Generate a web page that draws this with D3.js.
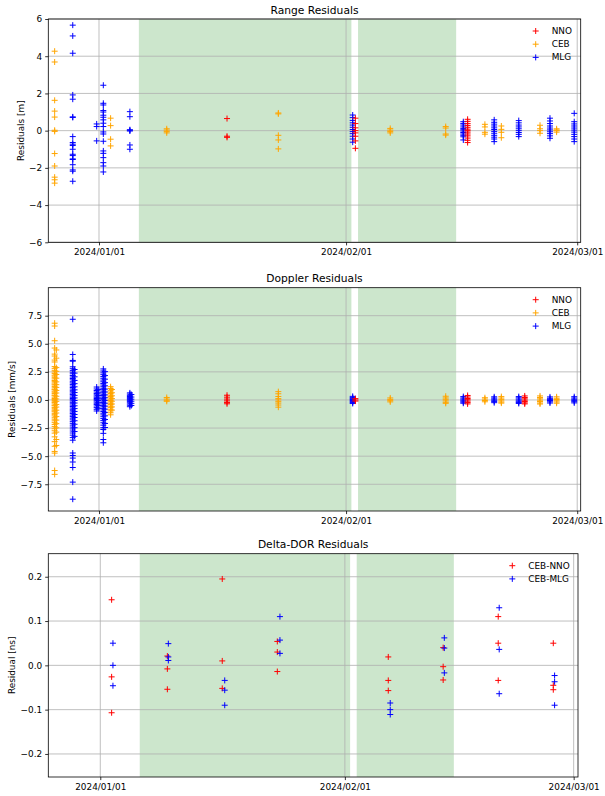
<!DOCTYPE html>
<html>
<head>
<meta charset="utf-8">
<script src="https://cdn.jsdelivr.net/npm/d3@7"></script>
<style>
  body { margin: 0; background: #fff; }
  svg { display: block; font-family: 'DejaVu Sans', sans-serif; }
</style>
</head>
<body>
<svg id="chart" width="605" height="796"></svg>
<script>
const parseTime = d3.timeParse('%Y-%m-%d %H:%M')

// x ticks and shaded periods (shared by all three plots)
const xTicks = ['2024-01-01 00:00', '2024-02-01 00:00', '2024-03-01 00:00']
const greenSpans = [
    ['2024-01-06 00:00', '2024-02-01 16:00'],
    ['2024-02-02 12:00', '2024-02-14 19:30'],
]

const rangeTicks = [-6, -4, -2, 0, 2, 4, 6]
const dopplerTicks = [-7.5, -5, -2.5, 0, 2.5, 5, 7.5]
const dorTicks = [-0.2, -0.1, 0, 0.1, 0.2]

// range residuals [m], one entry per pass: [time, values]
const rangeNNO = [
    ['2024-01-17 01:30', [0.65, -0.3, -0.36]],
    ['2024-02-02 04:00', [0.67, 0.38, 0.15, 0.0, -0.12, -0.3, -0.55, -0.95]],
    ['2024-02-16 06:00', [0.61, 0.5, 0.38, 0.28, 0.18, 0.08, 0.0, -0.08, -0.18, -0.28, -0.4, -0.52, -0.64]],
]
const rangeCEB = [
    ['2023-12-26 10:30', [4.27, 3.69, 1.63, 1.05, 0.73, 0.02, -0.04, -1.23, -1.9, -2.5, -2.64, -2.82]],
    ['2024-01-02 11:00', [0.67, 0.27, -0.46, -0.82]],
    ['2024-01-09 12:00', [0.1, 0.03, -0.04, -0.12]],
    ['2024-01-23 12:00', [0.95, 0.9, -0.25, -0.5, -0.98]],
    ['2024-02-06 13:00', [0.12, 0.03, -0.04, -0.12]],
    ['2024-02-13 12:00', [0.22, 0.14, -0.18, -0.24]],
    ['2024-02-18 10:00', [0.34, 0.2, -0.09, -0.19]],
    ['2024-02-20 11:30', [0.25, 0.07, -0.09, -0.38]],
    ['2024-02-25 08:00', [0.29, 0.1, 0.0, -0.14]],
    ['2024-02-27 10:00', [0.1, 0.04, 0.0, -0.08]],
]
const rangeMLG = [
    ['2023-12-28 17:00', [5.67, 5.09, 4.16, 1.92, 1.69, 0.74, 0.71, -0.32, -0.64, -0.73, -0.8, -1.0, -1.27, -1.34, -1.52, -1.55, -1.83, -2.11, -2.18, -2.72]],
    ['2023-12-31 17:00', [0.36, 0.22, -0.55]],
    ['2024-01-01 13:00', [2.44, 1.47, 1.38, 1.08, 1.0, 0.83, 0.72, 0.58, 0.4, 0.22, -0.07, -0.18, -0.57, -1.09, -1.22, -1.45, -1.72, -1.9, -2.22]],
    ['2024-01-04 21:00', [1.02, 0.75, 0.05, 0.02, -0.02, -0.77, -1.0]],
    ['2024-02-01 20:00', [0.84, 0.7, 0.55, 0.42, 0.3, 0.18, 0.06, -0.05, -0.16, -0.3, -0.45, -0.62]],
    ['2024-02-15 17:00', [0.48, 0.38, 0.3, 0.2, 0.12, 0.05, -0.02, -0.1, -0.18, -0.25, -0.33, -0.5]],
    ['2024-02-19 14:00', [0.58, 0.45, 0.35, 0.25, 0.15, 0.06, -0.04, -0.14, -0.25, -0.35, -0.45, -0.59]],
    ['2024-02-22 16:00', [0.54, 0.42, 0.3, 0.2, 0.1, 0.0, -0.1, -0.2, -0.32]],
    ['2024-02-26 14:00', [0.67, 0.52, 0.38, 0.25, 0.14, 0.04, -0.06, -0.16, -0.28, -0.41]],
    ['2024-02-29 15:00', [0.93, 0.48, 0.36, 0.25, 0.14, 0.03, -0.08, -0.2, -0.32, -0.45, -0.59]],
]

// doppler residuals [mm/s]
const dopplerNNO = [
    ['2024-01-17 01:30', [0.42, 0.25, 0.08, -0.08, -0.22, -0.34]],
    ['2024-02-02 04:00', [0.12, 0.0, -0.1]],
    ['2024-02-16 06:00', [0.4, 0.26, 0.13, 0.02, -0.1, -0.22, -0.35]],
    ['2024-02-23 10:00', [0.36, 0.22, 0.1, -0.02, -0.14, -0.26, -0.35]],
]
const dopplerCEB = [
    ['2023-12-26 10:30', [6.83, 6.58, 5.27, 4.62, 4.08, 3.91, 3.55, 3.38, 2.97, 2.81, 2.64, 2.49, 2.36, 2.21, 2.12, 1.98,
        1.87, 1.73, 1.66, 1.52, 1.41, 1.33, 1.19, 1.08, 0.96, 0.91, 0.78, 0.69, 0.57, 0.44, 0.38, 0.25, 0.13, 0.05,
        -0.04, -0.16, -0.23, -0.35, -0.47, -0.52, -0.66, -0.74, -0.88, -0.97, -1.05, -1.19, -1.31, -1.42, -1.58,
        -1.71, -1.86, -2.02, -2.19, -2.37, -2.56, -2.74, -2.95, -3.28, -3.71, -4.12, -4.58, -4.73, -6.28, -6.62]],
    ['2023-12-26 15:30', [4.45, 3.72, 2.88, 2.55, 2.27, 1.94, 1.61, 1.36, 1.12, 0.85, 0.62, 0.33, 0.09, -0.12, -0.41,
        -0.63, -0.91, -1.16, -1.48, -1.79, -2.11, -2.48, -2.86, -3.52, -4.05]],
    ['2024-01-02 11:00', [1.18, 1.02, 0.86, 0.71, 0.58, 0.44, 0.31, 0.19, 0.07, -0.05, -0.17, -0.29, -0.41, -0.55,
        -0.68, -0.83, -0.97, -1.14, -1.32]],
    ['2024-01-02 15:00', [0.93, 0.64, 0.37, 0.12, -0.11, -0.36, -0.62, -0.9]],
    ['2024-01-09 12:00', [0.22, 0.08, -0.03, -0.12]],
    ['2024-01-23 12:00', [0.74, 0.55, 0.31, 0.12, 0.0, -0.15, -0.28, -0.45, -0.64]],
    ['2024-02-06 13:00', [0.18, 0.05, -0.06, -0.17]],
    ['2024-02-13 12:00', [0.33, 0.18, 0.06, -0.08, -0.21, -0.3]],
    ['2024-02-18 10:00', [0.2, 0.08, -0.05, -0.16]],
    ['2024-02-20 11:30', [0.3, 0.17, 0.05, -0.08, -0.19, -0.28]],
    ['2024-02-25 08:00', [0.36, 0.22, 0.1, -0.02, -0.14, -0.27, -0.36]],
    ['2024-02-27 10:00', [0.28, 0.15, 0.04, -0.07, -0.18, -0.29]],
]
const dopplerMLG = [
    ['2023-12-28 17:00', [7.18, 4.05, 3.52, 3.45, 2.95, 2.78, 2.61, 2.47, 2.33, 2.18, 2.04, 1.91, 1.79, 1.62, 1.51,
        1.37, 1.24, 1.11, 0.98, 0.86, 0.73, 0.61, 0.49, 0.36, 0.24, 0.13, 0.02, -0.09, -0.21, -0.34, -0.46, -0.58,
        -0.71, -0.83, -0.96, -1.08, -1.21, -1.35, -1.48, -1.62, -1.77, -1.93, -2.08, -2.24, -2.41, -2.58, -2.76,
        -2.94, -3.13, -3.35, -3.58, -4.72, -4.94, -5.17, -5.52, -6.01, -7.31, -8.83]],
    ['2023-12-28 22:30', [2.71, 2.39, 2.06, 1.74, 1.45, 1.17, 0.9, 0.66, 0.41, 0.18, -0.05, -0.27, -0.52, -0.77,
        -1.02, -1.29, -1.56, -1.85, -2.16, -2.47, -2.81, -3.24]],
    ['2023-12-31 17:00', [1.15, 0.98, 0.84, 0.71, 0.58, 0.46, 0.35, 0.24, 0.13, 0.03, -0.07, -0.18, -0.29, -0.41,
        -0.54, -0.68, -0.83, -0.98]],
    ['2023-12-31 21:30', [0.92, 0.63, 0.39, 0.17, -0.04, -0.25, -0.48, -0.74]],
    ['2024-01-01 13:00', [2.76, 2.58, 2.41, 2.25, 2.08, 1.93, 1.77, 1.62, 1.47, 1.33, 1.18, 1.04, 0.91, 0.78, 0.64,
        0.51, 0.39, 0.26, 0.14, 0.02, -0.1, -0.23, -0.35, -0.48, -0.61, -0.75, -0.89, -1.03, -1.18, -1.33, -1.49,
        -1.66, -1.84, -2.03, -2.24, -2.47, -2.63, -2.97, -3.52, -3.81]],
    ['2024-01-01 18:00', [2.52, 2.17, 1.85, 1.54, 1.26, 0.97, 0.71, 0.45, 0.2, -0.04, -0.29, -0.55, -0.82, -1.11,
        -1.41, -1.74, -2.09, -2.45]],
    ['2024-01-04 21:00', [0.63, 0.52, 0.41, 0.31, 0.21, 0.12, 0.03, -0.06, -0.15, -0.25, -0.36, -0.47, -0.6]],
    ['2024-01-05 01:30', [0.48, 0.26, 0.07, -0.11, -0.3, -0.49]],
    ['2024-02-01 20:00', [0.32, 0.21, 0.12, 0.04, -0.05, -0.13, -0.22, -0.31]],
    ['2024-02-15 17:00', [0.3, 0.18, 0.08, -0.02, -0.11, -0.2, -0.29]],
    ['2024-02-19 14:00', [0.28, 0.17, 0.07, -0.03, -0.13, -0.24]],
    ['2024-02-22 16:00', [0.3, 0.19, 0.08, -0.02, -0.12, -0.22, -0.31]],
    ['2024-02-26 14:00', [0.27, 0.15, 0.05, -0.05, -0.16, -0.27]],
    ['2024-02-29 15:00', [0.29, 0.17, 0.06, -0.04, -0.15, -0.26]],
]

// delta-DOR residuals [ns]
const dorCebNno = [
    ['2024-01-02 10:30', [0.148, -0.026, -0.107]],
    ['2024-01-09 12:00', [0.021, -0.008, -0.054]],
    ['2024-01-16 11:00', [0.195, 0.01, -0.052]],
    ['2024-01-23 10:30', [0.054, 0.03, -0.014]],
    ['2024-02-06 12:00', [0.019, -0.034, -0.057]],
    ['2024-02-13 11:00', [0.04, -0.003, -0.033]],
    ['2024-02-20 10:30', [0.11, 0.05, -0.034]],
    ['2024-02-27 10:00', [0.05, -0.045, -0.055]],
]
const dorCebMlg = [
    ['2024-01-02 14:30', [0.05, 0.0, -0.046]],
    ['2024-01-09 15:00', [0.049, 0.019, 0.011]],
    ['2024-01-16 18:30', [-0.034, -0.056, -0.09]],
    ['2024-01-23 18:30', [0.11, 0.057, 0.027]],
    ['2024-02-06 18:00', [-0.085, -0.1, -0.111]],
    ['2024-02-13 14:30', [0.062, 0.039, -0.017]],
    ['2024-02-20 13:30', [0.13, 0.036, -0.064]],
    ['2024-02-27 14:00', [-0.023, -0.037, -0.09]],
]

const red = '#ff0000'
const orange = '#ffa500'
const blue = '#0000ff'

const panels = [
    {
        title: 'Range Residuals', yLabel: 'Residuals [m]',
        top: 19, bottom: 242.3, left: 48.3, right: 580.7, labelX: 20.5, legendDx: 45,
        xDomain: ['2023-12-25 15:20', '2024-03-01 10:30'], yDomain: [-6, 6],
        yTicks: rangeTicks, yFormat: d3.format('d'),
        draw: [['MLG', rangeMLG, blue], ['CEB', rangeCEB, orange], ['NNO', rangeNNO, red]],
        legend: [['NNO', red], ['CEB', orange], ['MLG', blue]],
    },
    {
        title: 'Doppler Residuals', yLabel: 'Residuals [mm/s]',
        top: 287.7, bottom: 511, left: 48.3, right: 580.7, labelX: 11.5, legendDx: 45,
        xDomain: ['2023-12-25 15:20', '2024-03-01 10:30'], yDomain: [-9.88, 9.99],
        yTicks: dopplerTicks, yFormat: d3.format('.1f'),
        draw: [['MLG', dopplerMLG, blue], ['CEB', dopplerCEB, orange], ['NNO', dopplerNNO, red]],
        legend: [['NNO', red], ['CEB', orange], ['MLG', blue]],
    },
    {
        title: 'Delta-DOR Residuals', yLabel: 'Residual [ns]',
        top: 553.7, bottom: 777, left: 48.3, right: 578, labelX: 11.5, legendDx: 65.7,
        xDomain: ['2023-12-25 09:50', '2024-03-01 13:10'], yDomain: [-0.252, 0.252],
        yTicks: dorTicks, yFormat: d3.format('.1f'),
        draw: [['CEB-NNO', dorCebNno, red], ['CEB-MLG', dorCebMlg, blue]],
        legend: [['CEB-NNO', red], ['CEB-MLG', blue]],
    },
]

const svg = d3.select('#chart')
const fontSize = 8.9
const plus = 'M-3,0H3M0,-3V3'

panels.forEach(p => drawPanel(p))

function drawPanel(p) {
    const x = d3.scaleTime()
        .domain(p.xDomain.map(parseTime))
        .range([p.left, p.right])
    const y = d3.scaleLinear()
        .domain(p.yDomain)
        .range([p.bottom, p.top])
    const tickDates = xTicks.map(parseTime)

    const g = svg.append('g')

    // shaded periods
    g.selectAll('.span')
        .data(greenSpans)
        .join('rect')
        .attr('x', d => x(parseTime(d[0])))
        .attr('width', d => x(parseTime(d[1])) - x(parseTime(d[0])))
        .attr('y', p.top)
        .attr('height', p.bottom - p.top)
        .attr('fill', 'green')
        .attr('fill-opacity', 0.2)

    // grid
    g.selectAll('.vgrid')
        .data(tickDates)
        .join('line')
        .attr('x1', d => x(d)).attr('x2', d => x(d))
        .attr('y1', p.top).attr('y2', p.bottom)
        .attr('stroke', '#b0b0b0')
        .attr('stroke-width', 0.8)
    g.selectAll('.hgrid')
        .data(p.yTicks)
        .join('line')
        .attr('x1', p.left).attr('x2', p.right)
        .attr('y1', d => y(d)).attr('y2', d => y(d))
        .attr('stroke', '#b0b0b0')
        .attr('stroke-width', 0.8)

    // markers
    p.draw.forEach(([name, passes, color]) => {
        const pts = passes.flatMap(([t, vals]) => vals.map(v => ({ t: parseTime(t), v })))
        g.append('g')
            .selectAll('path')
            .data(pts)
            .join('path')
            .attr('transform', d => `translate(${x(d.t)},${y(d.v)})`)
            .attr('d', plus)
            .attr('stroke', color)
            .attr('stroke-width', 1)
            .attr('fill', 'none')
    })

    // axes
    const xAxis = g.append('g')
        .attr('transform', `translate(0,${p.bottom})`)
        .call(d3.axisBottom(x).tickValues(tickDates).tickSize(3.1).tickPadding(3.1)
            .tickFormat(d3.timeFormat('%Y/%m/%d')))
    const yAxis = g.append('g')
        .attr('transform', `translate(${p.left},0)`)
        .call(d3.axisLeft(y).tickValues(p.yTicks).tickSize(3.1).tickPadding(3.1).tickFormat(p.yFormat))
    ;[xAxis, yAxis].forEach(a => {
        a.select('.domain').remove()
        a.selectAll('.tick line').attr('stroke', '#000').attr('stroke-width', 0.8)
        a.selectAll('.tick text')
            .attr('fill', '#000')
            .style('font-size', fontSize + 'px')
            .style('font-family', "'DejaVu Sans', sans-serif")
    })

    // frame
    g.append('rect')
        .attr('x', p.left).attr('y', p.top)
        .attr('width', p.right - p.left).attr('height', p.bottom - p.top)
        .attr('fill', 'none')
        .attr('stroke', '#000')
        .attr('stroke-width', 0.8)

    g.append('text')
        .attr('x', (p.left + p.right) / 2)
        .attr('y', p.top - 5.4)
        .attr('text-anchor', 'middle')
        .style('font-size', '10.7px')
        .text(p.title)

    g.append('text')
        .attr('transform', `translate(${p.labelX},${(p.top + p.bottom) / 2}) rotate(-90)`)
        .attr('text-anchor', 'middle')
        .attr('dominant-baseline', 'central')
        .style('font-size', fontSize + 'px')
        .text(p.yLabel)

    // legend, no frame
    const legend = g.append('g')
        .attr('transform', `translate(${p.right - p.legendDx},${p.top + 12})`)
    const rows = legend.selectAll('g')
        .data(p.legend)
        .join('g')
        .attr('transform', (d, i) => `translate(0,${i * 13.2})`)
    rows.append('path')
        .attr('d', plus)
        .attr('stroke', d => d[1])
        .attr('stroke-width', 1)
    rows.append('text')
        .attr('x', 16)
        .attr('dominant-baseline', 'central')
        .style('font-size', fontSize + 'px')
        .text(d => d[0])
}
</script>
</body>
</html>
